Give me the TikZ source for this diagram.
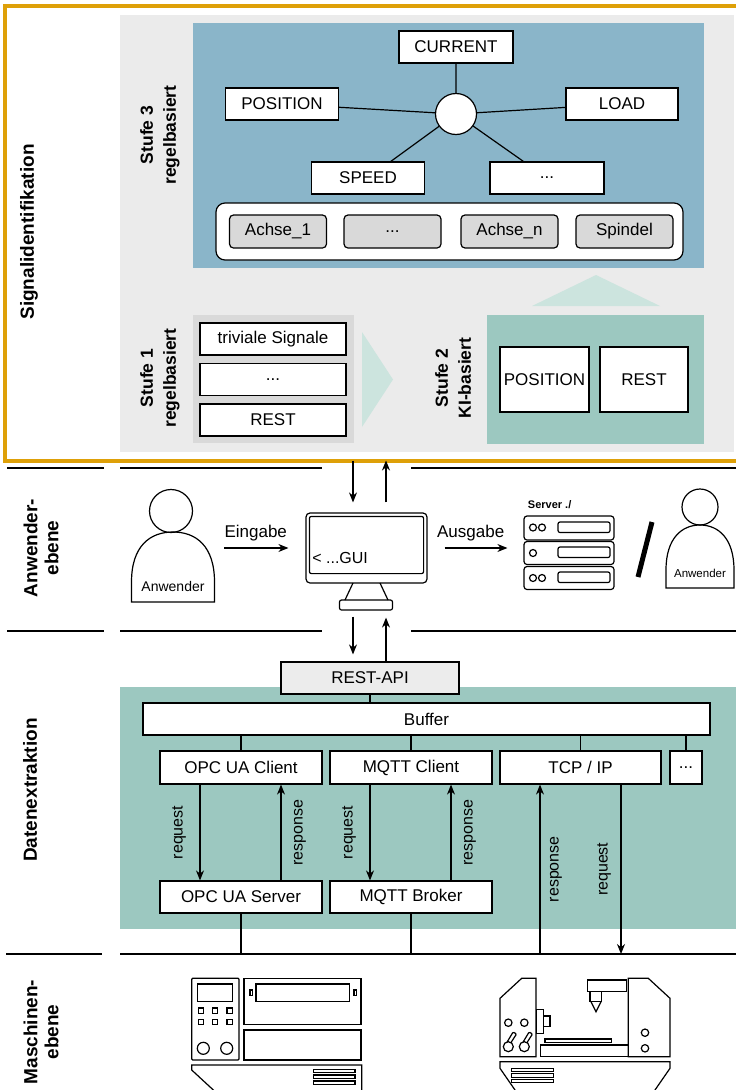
\documentclass[tikz,border=0pt]{standalone}
\usepackage{fontspec}
\setmainfont{Liberation Sans}
\usetikzlibrary{arrows.meta}

\definecolor{gold}{RGB}{222,160,8}
\definecolor{panel}{RGB}{235,235,235}
\definecolor{steel}{RGB}{138,181,201}
\definecolor{mint}{RGB}{156,200,192}
\definecolor{pale}{RGB}{204,228,222}
\definecolor{lgray}{RGB}{217,217,217}

\begin{document}
\begin{tikzpicture} [
   x=1pt, y=-1pt, line width=1.2pt, >={Stealth[length=10pt,width=8pt]},
   b/.style={draw, fill=white, inner sep=0pt, minimum height=32pt,
             font=\fontsize{17}{20}\selectfont},
   ax/.style={b, fill=lgray, rounded corners=4pt, minimum width=97pt, minimum height=33pt},
   lay/.style={rotate=90, align=center, font=\bfseries\fontsize{19}{21}\selectfont},
   stage/.style={rotate=90, align=center, font=\bfseries\fontsize{17.5}{23}\selectfont},
   rq/.style={rotate=90, font=\fontsize{16}{18}\selectfont},
   sep/.style={line width=1.5pt}
]
   \useasboundingbox (0,0) rectangle (736,1090);

   % Signalidentifikation
   \fill[panel] (120,15) rectangle (734,452);
   \draw[gold, line width=4pt] (5,6) rectangle (745,460.5);
   \coordinate (frm) at (0,460.5);
   \node (sig) [lay] at (29,232) {Signalidentifikation};

   % Stufe 3
   \fill[steel] (192.5,23) rectangle (704,268);
   \node (st3) [stage] at (160,135) {Stufe 3\\regelbasiert};
   \node (cur) [b, minimum width=114pt] at (456,47) {CURRENT};
   \node (pos) [b, minimum width=113pt] at (282,104) {POSITION};
   \node (load) [b, minimum width=112pt] at (622,104) {LOAD};
   \node (speed) [b, minimum width=113pt] at (368,178) {SPEED};
   \node (more) [b, minimum width=114pt] at (547,178) {...};
   \node (hub) [circle, draw, fill=white, minimum size=41pt, inner sep=0pt] at (456,114) {};
   \draw (hub) -- (cur)
         (hub) -- (pos)
         (hub) -- (load)
         (hub) -- (speed)
         (hub) -- (more);
   \node (axes) [draw, fill=white, rounded corners=9pt, minimum width=467pt,
                 minimum height=57pt] at (449.5,231.5) {};
   \node (a1) [ax] at (278,231.5) {Achse\_1};
   \node (a2) [ax] at (392.5,231.5) {...};
   \node (an) [ax] at (509.5,231.5) {Achse\_n};
   \node (sp) [ax] at (624.5,231.5) {Spindel};

   % Stufe 1
   \fill[lgray] (192.5,315) rectangle (353.5,443);
   \node (st1) [stage] at (160,378) {Stufe 1\\regelbasiert};
   \node (triv) [b, minimum width=146pt] at (273,339) {triviale Signale};
   \node (dots) [b, minimum width=146pt] at (273,379.5) {...};
   \node (rest) [b, minimum width=146pt] at (273,420) {REST};
   \fill[pale] (362,332) -- (393,379.5) -- (362,427) -- cycle;

   % Stufe 2
   \fill[mint] (487,315) rectangle (704,444);
   \node (st2) [stage] at (453,378) {Stufe 2\\KI-basiert};
   \node (kipos) [b, minimum width=89pt, minimum height=65pt] at (544.5,379.5) {POSITION};
   \node (kirest) [b, minimum width=88pt, minimum height=65pt] at (644,379.5) {REST};
   \fill[pale] (532,306) -- (596,275) -- (660,306) -- cycle;

   % layer lines
   \foreach \y in {468,631}
      \draw[sep] (7,\y) -- (104,\y) (120,\y) -- (322,\y) (411,\y) -- (736,\y);
   \draw[sep] (6,954) -- (102,954) (120,954) -- (736,954);
   \coordinate (mline) at (0,954);
   \coordinate (dn) at (353,0);
   \coordinate (upc) at (386,0);

   % Anwenderebene
   \node (anw) [lay] at (41,548) {Anwender-\\ebene};
   \draw (171,511) circle[radius=21.5pt];
   \draw (131.5,602) -- (131.5,582) .. controls (131.5,546) and (150,532) .. (173,532)
         .. controls (196,532) and (214.5,546) .. (214.5,582) -- (214.5,602) -- cycle;
   \node (user) [minimum width=83pt, minimum height=70pt, inner sep=0pt] at (173,567) {};
   \node at (173,586) {\fontsize{14}{16}\selectfont Anwender};

   \node (gui) [draw, rounded corners=4pt, minimum width=121pt, minimum height=70pt] at (366.5,548) {};
   \draw[rounded corners=2pt] ([shift={(4,4)}]gui.north west) rectangle ([shift={(-4,-10)}]gui.south east);
   \node [anchor=west, font=\fontsize{16}{18}\selectfont] at ([shift={(3,10)}]gui.west) {< ...GUI};
   \draw (353,583) -- (345,600) (380,583) -- (388,600);
   \node (foot) [draw, rounded corners=2pt, minimum width=53pt, minimum height=10pt, inner sep=0pt] at (366,605) {};

   \node (srv) [minimum width=90pt, minimum height=74pt, inner sep=0pt] at (569,553) {};
   \node [anchor=west, font=\bfseries\fontsize{11}{13}\selectfont] at (524,505) {Server ./};
   \foreach \t/\h in {516/24, 541.5/23, 566.5/23}
      \draw[rounded corners=3pt] (524,\t) rectangle (614,\t+\h);
   \foreach \y in {527.5,578} {
      \draw (533,\y) circle[radius=3.5pt] (542,\y) circle[radius=3.5pt];
   }
   \draw (533,553) circle[radius=3.5pt];
   \foreach \y in {522,547,572}
      \draw[rounded corners=2pt] (558,\y) rectangle (610,\y+10.5);
   \draw[line width=5pt] (652,522) -- (638,577);

   \draw (700,507) circle[radius=18pt];
   \draw (666,588) -- (666,570) .. controls (666,538) and (682,525) .. (700,525)
         .. controls (718,525) and (734,538) .. (734,570) -- (734,588) -- cycle;
   \node at (700,573) {\fontsize{11.5}{13}\selectfont Anwender};

   \draw[->, shorten <=9pt, shorten >=17pt] (user.east |- gui) -- (gui.west)
        node[pos=.45, above=3pt, font=\fontsize{17}{20}\selectfont] {Eingabe};
   \draw[->, shorten <=17pt, shorten >=16pt] (gui.east) -- (srv.west |- gui)
        node[pos=.45, above=3pt, font=\fontsize{17}{20}\selectfont] {Ausgabe};

   \draw[->, shorten >=10pt] (dn |- frm) -- (dn |- gui.north);
   \draw[->, shorten <=10pt] (upc |- gui.north) -- (upc |- frm);

   % Datenextraktion
   \fill[mint] (119.5,687) rectangle (740,929);
   \node (dat) [lay] at (30,790) {Datenextraktion};
   \node (api) [b, fill=gray!15, minimum width=178pt] at (370,678) {REST-API};
   \draw[->, shorten <=6pt, shorten >=7pt] (dn |- foot.south) -- (dn |- api.north);
   \draw[->, shorten >=7pt] (upc |- api.north) -- (upc |- foot.south);

   \node (buf) [b, minimum width=567pt] at (426.5,719) {Buffer};
   \draw (api.south) -- (api.south |- buf.north);

   \node (opcc) [b, minimum width=162pt, minimum height=33pt] at (241,767.5) {OPC UA Client};
   \node (mqttc) [b, minimum width=162pt, minimum height=33pt] at (411,767.5) {MQTT Client};
   \node (tcp) [b, minimum width=161pt, minimum height=33pt] at (580.5,767.5) {TCP / IP};
   \node (etc) [b, minimum width=32pt, minimum height=33pt] at (686,767.5) {...};
   \foreach \n in {opcc,mqttc,tcp,etc}
      \draw (\n.north) -- (\n.north |- buf.south);

   \node (opcs) [b, minimum width=162pt] at (241,897) {OPC UA Server};
   \node (broker) [b, minimum width=162pt] at (411,897) {MQTT Broker};

   \draw[->] ([xshift=-41pt]opcc.south) -- ([xshift=-41pt]opcs.north)
        node[midway, xshift=-21pt, rq] {request};
   \draw[->] ([xshift=40pt]opcs.north) -- ([xshift=40pt]opcc.south)
        node[midway, xshift=19pt, rq] {response};
   \draw[->] ([xshift=-41pt]mqttc.south) -- ([xshift=-41pt]broker.north)
        node[midway, xshift=-21pt, rq] {request};
   \draw[->] ([xshift=40pt]broker.north) -- ([xshift=40pt]mqttc.south)
        node[midway, xshift=19pt, rq] {response};

   \coordinate (tres) at ([xshift=-40.5pt]tcp.south);
   \coordinate (treq) at ([xshift=40.5pt]tcp.south);
   \draw[->] (tres |- mline) -- (tres)
        node[midway, xshift=16pt, rq] {response};
   \draw[->] (treq) -- (treq |- mline)
        node[midway, xshift=-17pt, rq] {request};
   \draw (opcs.south) -- (opcs.south |- mline);
   \draw (broker.south) -- (broker.south |- mline);

   % Maschinenebene
   \node (mas) [lay] at (41,1032) {Maschinen-\\ebene};

   % machine with control panel
   \draw[rounded corners=1pt] (191.7,978.3) rectangle (239,1060);
   \draw (197.3,984) rectangle (232.7,1001.7);
   \foreach \x in {200.8,215,229.5}
      \foreach \y in {1010.5,1021.7}
         \draw (\x-2.6,\y-2.6) rectangle ++(5.2,5.2);
   \draw (203.3,1048.3) circle[radius=6pt] (226.7,1048.3) circle[radius=6pt];
   \draw (244,978.3) rectangle (361,1024.3);
   \draw (256,984) rectangle (349.3,1001.7);
   \draw (250,990) rectangle (252.3,995.7) (354,990) rectangle (356.3,995.7);
   \draw (244,1030) rectangle (361,1060);
   \draw (215.5,1092) -- (191.7,1070) -- (191.7,1065) -- (361.7,1065) -- (361.7,1092);
   \foreach \y in {1069.3,1075,1081}
      \draw (313.3,\y) rectangle (355,\y+3.4);

   % machine with spindle
   \draw (500,1056.7) -- (500,998.3) -- (521.7,978.3) -- (536,978.3) -- (536,1056.7) -- cycle;
   \draw (628.3,1056.7) -- (628.3,978.3) -- (648.3,978.3) -- (670,998.3) -- (670,1056.7) -- cycle;
   \draw (587.3,980) rectangle (626.7,991.7);
   \draw (590,991.7) rectangle (601.7,1001.7);
   \draw (591,1001.7) -- (596,1011.7) -- (601,1001.7);
   \draw (536.7,1009.3) rectangle (543.3,1033.3) (543.3,1016) rectangle (550,1026.7);
   \draw (545,1039) rectangle (611.7,1042.3);
   \draw (540.7,1045) rectangle (628.3,1056.7);
   \draw (508.3,1022.7) circle[radius=3.7pt] (524.3,1022.7) circle[radius=3.7pt];
   \draw (645,1032.7) circle[radius=3.7pt] (645,1048.3) circle[radius=3.7pt];
   \foreach \x in {508.3,524.3} {
      \draw (\x,1046.7) circle[radius=5pt];
      \draw[rounded corners=1pt] (\x-1.2,1042) -- (\x+4.8,1032) -- (\x+8.2,1034) -- (\x+2.4,1043);
   }
   \draw (516.4,1092) -- (500,1068.3) -- (500,1061.7) -- (670,1061.7) -- (670,1068.3) -- (653.6,1092);
   \foreach \y in {1068.3,1073.8,1079.3}
      \draw (511.7,\y) rectangle (553.3,\y+3.5);
\end{tikzpicture}
\end{document}
